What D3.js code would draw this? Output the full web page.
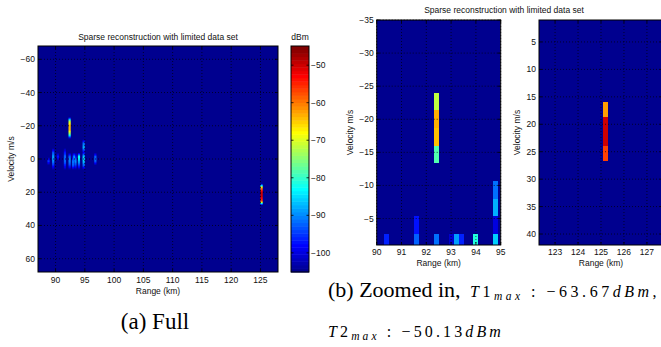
<!DOCTYPE html>
<html><head><meta charset="utf-8">
<script src="https://cdn.jsdelivr.net/npm/d3@7"></script>
<style>body{margin:0;background:#fff}</style>
</head><body><svg id="c" width="661" height="347"></svg>
<script>
const titleText = "Sparse reconstruction with limited data set";
// cells: range centre (km), velocity centre (m/s), power (dBm)
const cellRange = [92.4, 92.4, 92.4, 92.4,
  125.2, 125.2, 125.2, 125.2,
  90.4, 91.6, 91.6, 92.4, 93.0, 93.2, 93.4, 94.0, 94.8, 94.8, 94.8, 94.8,
  88.8, 89.6, 89.6, 89.6, 89.6, 91.6, 91.6, 92.4, 92.4, 93.0, 93.0, 93.2, 93.4, 93.4, 94.0, 94.0, 94.8, 94.8, 96.8, 96.8];
const cellVel = [-22.67, -20, -17.33, -14.67,
  17.33, 20, 22.67, 25.33,
  -1.33, -4, -1.33, -1.33, -1.33, -1.33, -1.33, -1.33, -9.33, -6.67, -4, -1.33,
  1.33, -4, -1.33, 1.33, 4, 1.33, 4, 1.33, 4, 1.33, 4, 1.33, 1.33, 4, 1.33, 4, 1.33, 4, -1.33, 1.33];
const cellPower = [-71.7, -63.67, -64.0, -78.5,
  -62.5, -50.13, -50.5, -56.7,
  -96.2, -97.1, -92.4, -91.4, -100.9, -88.6, -96.2, -81.1, -91.4, -87.6, -99.9, -85.8,
  -95, -94, -88, -90, -96, -92, -97, -90, -95, -91, -93, -93, -89, -95, -88, -95, -86, -93, -92, -93];
const fullXTicks = [90, 95, 100, 105, 110, 115, 120, 125];
const fullYTicks = [-60, -40, -20, 0, 20, 40, 60];
const cbTicks = [-100, -90, -80, -70, -60, -50];
const z1XTicks = [90, 91, 92, 93, 94, 95];
const z1YTicks = [-35, -30, -25, -20, -15, -10, -5];
const z2XTicks = [123, 124, 125, 126, 127];
const z2YTicks = [5, 10, 15, 20, 25, 30, 35, 40];
const rangeRes = 0.2, velRes = 8 / 3;
const powerMin = -105.1, powerMax = -44.9;

const cells = cellRange.map((r, i) => ({r, v: cellVel[i], p: cellPower[i]}));

function jet64(k) {
  const K = k + 1;
  const r = K <= 24 ? 0 : K <= 40 ? (K - 24) / 16 : K <= 56 ? 1 : (72 - K) / 16;
  const g = K <= 8 ? 0 : K <= 24 ? (K - 8) / 16 : K <= 40 ? 1 : K <= 56 ? (56 - K) / 16 : 0;
  const b = K <= 8 ? (K + 8) / 16 : K <= 24 ? 1 : K <= 40 ? (40 - K) / 16 : 0;
  return [Math.round(r * 255), Math.round(g * 255), Math.round(b * 255)];
}
const cIdx = d3.scaleQuantize().domain([powerMin, powerMax]).range(d3.range(64));
function colIdx(p) { return p <= powerMin ? 0 : p >= powerMax ? 63 : cIdx(p); }
function colorOf(p) { const c = jet64(colIdx(p)); return `rgb(${c[0]},${c[1]},${c[2]})`; }

const svg = d3.select("#c");
svg.append("rect").attr("width", 661).attr("height", 347).attr("fill", "#fff");
const FONT = "'Liberation Sans', Arial, sans-serif";
const FS = 8.5;

function axesFrame(g, xs, ys, xt, yt, opts) {
  const [x0, x1] = xs.range(), [y0, y1] = ys.range().slice().sort((a, b) => a - b);
  const grid = g.append("g").attr("stroke", "#000").attr("stroke-width", 0.8).attr("stroke-dasharray", "1,2").attr("opacity", 0.85);
  xt.forEach(t => grid.append("line").attr("x1", xs(t)).attr("x2", xs(t)).attr("y1", y0).attr("y2", y1));
  yt.forEach(t => grid.append("line").attr("x1", x0).attr("x2", x1).attr("y1", ys(t)).attr("y2", ys(t)));
  const tk = g.append("g").attr("stroke", "#000").attr("stroke-width", 0.8);
  const L = 3;
  xt.forEach(t => {
    tk.append("line").attr("x1", xs(t)).attr("x2", xs(t)).attr("y1", y1).attr("y2", y1 - L);
    tk.append("line").attr("x1", xs(t)).attr("x2", xs(t)).attr("y1", y0).attr("y2", y0 + L);
  });
  yt.forEach(t => {
    tk.append("line").attr("x1", x0).attr("x2", x0 + L).attr("y1", ys(t)).attr("y2", ys(t));
    tk.append("line").attr("x1", x1).attr("x2", x1 - L).attr("y1", ys(t)).attr("y2", ys(t));
  });
  g.append("rect").attr("x", x0).attr("y", y0).attr("width", x1 - x0).attr("height", y1 - y0)
    .attr("fill", "none").attr("stroke", "#000").attr("stroke-width", 1);
  const lab = g.append("g").attr("font-family", FONT).attr("font-size", FS).attr("fill", "#111");
  xt.forEach(t => lab.append("text").attr("x", xs(t)).attr("y", y1 + opts.xLabDy).attr("text-anchor", "middle").text(d3.format("d")(t).replace("-", "\u2212")));
  yt.forEach(t => lab.append("text").attr("x", x0 - 3).attr("y", ys(t) + 3).attr("text-anchor", "end").text(d3.format("d")(t).replace("-", "\u2212")));
  lab.append("text").attr("x", (x0 + x1) / 2).attr("y", y1 + opts.xTitleDy).attr("text-anchor", "middle").text("Range (km)");
  lab.append("text").attr("transform", `translate(${opts.yTitleX},${(y0 + y1) / 2}) rotate(-90)`).attr("text-anchor", "middle").text("Velocity m/s");
}

// ---------- Full view ----------
{
  const x0 = 38, x1 = 278, y0 = 46, y1 = 272;
  const xs = d3.scaleLinear().domain([87, 128]).range([x0, x1]);
  const ys = d3.scaleLinear().domain([-68, 68]).range([y0, y1]);
  const rStart = 87, nI = Math.round((128 - 87) / rangeRes) + 1;
  const j0 = -26, nJ = 52;
  const grid = new Float32Array(nI * nJ).fill(powerMin);
  cells.forEach(c => {
    const i = Math.round((c.r - rStart) / rangeRes);
    const j = Math.round(c.v / velRes - 0.5) - j0;
    if (i >= 0 && i < nI && j >= 0 && j < nJ) grid[j * nI + i] = c.p;
  });
  const W = x1 - x0, H = y1 - y0;
  const cv = document.createElement("canvas"); cv.width = W; cv.height = H;
  const ctx = cv.getContext("2d"); const img = ctx.createImageData(W, H);
  const G = (i, j) => grid[Math.max(0, Math.min(nJ - 1, j)) * nI + Math.max(0, Math.min(nI - 1, i))];
  const bg = jet64(0);
  for (let py = 0; py < H; py++) {
    const v = ys.invert(y0 + py + 0.5);
    const fj = v / velRes - 0.5 - j0;
    const ja = Math.floor(fj), tj = fj - ja;
    for (let px = 0; px < W; px++) {
      const r = xs.invert(x0 + px + 0.5);
      const fi = (r - rStart) / rangeRes;
      const ib = Math.floor(fi);
      let best = 0, bestVal = powerMin, bestW = 0;
      for (let i = ib - 1; i <= ib + 2; i++) {
        const vv = G(i, ja) * (1 - tj) + G(i, ja + 1) * tj;
        const d = Math.abs(fi - i);
        const w = d <= 0.55 ? 1 : Math.max(0, 1 - (d - 0.55) / 0.8);
        const score = (vv - powerMin) * w;
        if (score > best) { best = score; bestVal = vv; bestW = w; }
      }
      const c = jet64(colIdx(bestVal));
      const o = (py * W + px) * 4;
      img.data[o] = Math.round(bg[0] + (c[0] - bg[0]) * bestW);
      img.data[o + 1] = Math.round(bg[1] + (c[1] - bg[1]) * bestW);
      img.data[o + 2] = Math.round(bg[2] + (c[2] - bg[2]) * bestW);
      img.data[o + 3] = 255;
    }
  }
  ctx.putImageData(img, 0, 0);
  const g = svg.append("g");
  g.append("image").attr("x", x0).attr("y", y0).attr("width", W).attr("height", H).attr("href", cv.toDataURL());
  axesFrame(g, xs, ys, fullXTicks, fullYTicks, {xLabDy: 11, xTitleDy: 22, yTitleX: 14});
  g.append("text").attr("x", (x0 + x1) / 2).attr("y", 40).attr("text-anchor", "middle")
    .attr("font-family", FONT).attr("font-size", FS).attr("fill", "#111").text(titleText);

  // colorbar
  const cx0 = 291, cx1 = 309;
  const cs = d3.scaleLinear().domain([powerMin, powerMax]).range([y1, y0]);
  const step = (powerMax - powerMin) / 64;
  const cb = svg.append("g");
  d3.range(64).forEach(k => {
    const lo = powerMin + k * step, hi = lo + step;
    const c = jet64(k);
    cb.append("rect").attr("x", cx0).attr("width", cx1 - cx0).attr("y", cs(hi)).attr("height", cs(lo) - cs(hi) + 0.5)
      .attr("fill", `rgb(${c[0]},${c[1]},${c[2]})`);
  });
  cb.append("rect").attr("x", cx0).attr("y", y0).attr("width", cx1 - cx0).attr("height", y1 - y0)
    .attr("fill", "none").attr("stroke", "#000").attr("stroke-width", 1);
  cbTicks.forEach(t => {
    cb.append("line").attr("x1", cx0).attr("x2", cx0 + 2.5).attr("y1", cs(t)).attr("y2", cs(t)).attr("stroke", "#000").attr("stroke-width", 0.8);
    cb.append("line").attr("x1", cx1).attr("x2", cx1 - 2.5).attr("y1", cs(t)).attr("y2", cs(t)).attr("stroke", "#000").attr("stroke-width", 0.8);
    cb.append("text").attr("x", cx1 + 2).attr("y", cs(t) + 3).attr("font-family", FONT).attr("font-size", FS).attr("fill", "#111")
      .text(String(t).replace("-", "\u2212"));
  });
  cb.append("text").attr("x", (cx0 + cx1) / 2).attr("y", 40).attr("text-anchor", "middle").attr("font-family", FONT).attr("font-size", FS).attr("fill", "#111").text("dBm");
}

// ---------- Zoomed panels ----------
function zoomPanel(x0, x1, xd, yd, xt, yt, yTitleX, clipId) {
  const y0 = 20, y1 = 245;
  const xs = d3.scaleLinear().domain(xd).range([x0, x1]);
  const ys = d3.scaleLinear().domain(yd).range([y0, y1]);
  const g = svg.append("g");
  g.append("clipPath").attr("id", clipId).append("rect").attr("x", x0).attr("y", y0).attr("width", x1 - x0).attr("height", y1 - y0);
  const pg = g.append("g").attr("clip-path", `url(#${clipId})`);
  pg.append("rect").attr("x", x0).attr("y", y0).attr("width", x1 - x0).attr("height", y1 - y0).attr("fill", colorOf(powerMin));
  pg.selectAll("rect.cell").data(cells).join("rect").attr("class", "cell")
    .attr("x", d => xs(d.r - rangeRes / 2)).attr("width", d => xs(d.r + rangeRes / 2) - xs(d.r - rangeRes / 2))
    .attr("y", d => ys(d.v - velRes / 2)).attr("height", d => ys(d.v + velRes / 2) - ys(d.v - velRes / 2))
    .attr("fill", d => colorOf(d.p)).attr("shape-rendering", "crispEdges");
  axesFrame(g, xs, ys, xt, yt, {xLabDy: 10, xTitleDy: 21, yTitleX});
}
zoomPanel(376.7, 500.7, [90, 95], [-35, -1], z1XTicks, z1YTicks, 353, "clipA");
zoomPanel(539, 663, [122.3, 127.7], [1, 42], z2XTicks, z2YTicks, 520, "clipB");
svg.append("text").attr("x", 504).attr("y", 13).attr("text-anchor", "middle")
  .attr("font-family", FONT).attr("font-size", FS).attr("fill", "#111").text(titleText);

// ---------- Captions ----------
const SERIF = "'Liberation Serif', 'Times New Roman', serif";
svg.append("text").attr("x", 155).attr("y", 329).attr("text-anchor", "middle").attr("font-family", SERIF).attr("font-size", 23).text("(a) Full");
svg.append("text").attr("x", 328).attr("y", 297).attr("font-family", SERIF).attr("font-size", 22).text("(b) Zoomed in,");
function mathLine(x, y, idx, val, tail, width) {
  const t = svg.append("text").attr("x", x).attr("y", y).attr("font-family", SERIF).attr("font-size", 16);
  t.append("tspan").attr("font-style", "italic").text("T");
  t.append("tspan").text(idx);
  t.append("tspan").attr("font-style", "italic").attr("font-size", 11.5).attr("dy", 3).text("max");
  t.append("tspan").attr("dy", -3).text(" : \u2212" + val);
  t.append("tspan").attr("font-style", "italic").text("dBm");
  if (tail) t.append("tspan").text(tail);
  const n = t.text().length;
  const w = t.node().getComputedTextLength();
  t.attr("letter-spacing", Math.max(0, (width - w) / n));
}
mathLine(470, 297, "1", "63.67", ",", 190);
mathLine(328, 337, "2", "50.13", "", 176);
</script></body></html>
